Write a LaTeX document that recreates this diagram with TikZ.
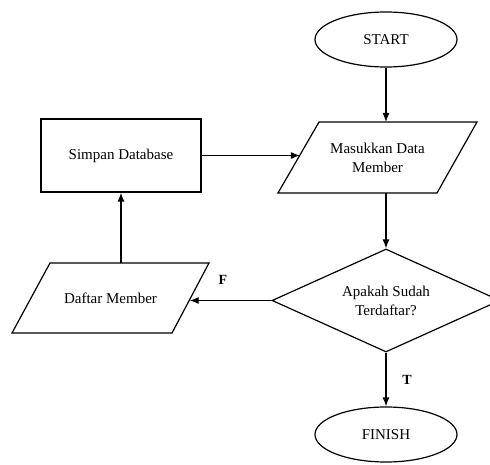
\documentclass[tikz,border=0pt]{standalone}
\usepackage{fontspec}
\setmainfont{Liberation Serif}
\usetikzlibrary{shapes.geometric,arrows.meta}
\begin{document}
\begin{tikzpicture}[x=1pt,y=-1pt,
  txt/.style={font=\fontsize{15}{19}\selectfont,align=center,inner sep=0pt},
  base/.style={txt,draw=black,line width=1.2pt},
  term/.style={base,ellipse,minimum width=142pt,minimum height=55pt},
  proc/.style={base,rectangle,minimum width=160pt,minimum height=73pt},
  outline/.style={draw=black,line width=1.2pt,line join=miter},
  dec/.style={base,diamond,aspect=2.2,minimum width=228pt,minimum height=103pt},
  arr/.style={line width=1.2pt,-{Latex[length=9pt,width=7pt]}},
  lab/.style={font=\fontsize{14}{16}\selectfont\bfseries}]
\useasboundingbox (0,0) rectangle (490,465);
\node[term] (start) at (386,39.5) {START};
% Masukkan Data Member (parallelogram)
\draw[outline] (319,122) -- (477,122) -- (437,193) -- (278,193) -- cycle;
\node[txt] (masuk) at (377.5,157.5) {Masukkan Data\\Member};
\coordinate (mT) at (386,122);
\coordinate (mB) at (386,193);
\coordinate (mL) at (299.9,155.5);
\node[proc] (simpan) at (121,155.5) {Simpan Database};
% Daftar Member (parallelogram)
\draw[outline] (50,263) -- (209,263) -- (172,333) -- (12,333) -- cycle;
\node[txt] (daftar) at (110.5,298) {Daftar Member};
\coordinate (dT) at (121,263);
\coordinate (dR) at (189.7,300.5);
\node[dec] (cek) at (386,300.5) {Apakah Sudah\\Terdaftar?};
\node[term] (finish) at (386,434.5) {FINISH};
\node[lab] (F) at (223,280) {F};
\node[lab] (T) at (407,380) {T};
\draw[arr] (start.south) -- (mT);
\draw[arr] (mB) -- (cek.north);
\draw[arr] (simpan.east) -- (mL);
\draw[arr] (cek.west) -- (dR);
\draw[arr] (dT) -- (simpan.south);
\draw[arr] (cek.south) -- (finish.north);
\end{tikzpicture}
\end{document}
